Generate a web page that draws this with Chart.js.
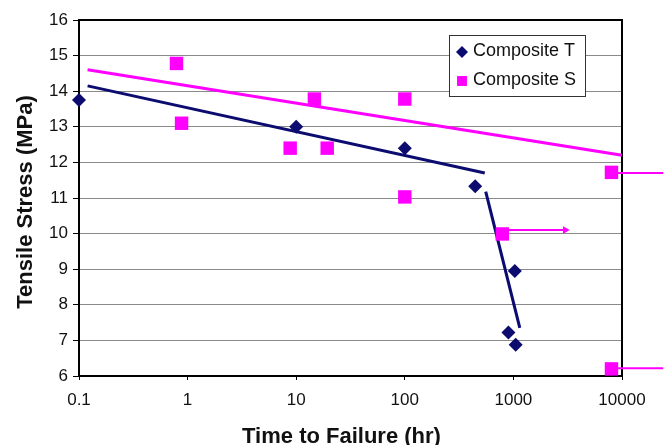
<!DOCTYPE html>
<html lang="en">
<head>
<meta charset="UTF-8">
<title>Tensile Stress vs Time to Failure</title>
<style>
  html, body { margin: 0; padding: 0; background: #fff; }
  #chart { display: block; }
</style>
</head>
<body>
<canvas id="chart" width="666" height="445"></canvas>
<script src="https://cdn.jsdelivr.net/npm/chart.js"></script>
<script>
  // Composite T (diamonds)
  const tTime = [0.1, 10, 100, 445, 1030, 900, 1050];
  const tStress = [13.75, 13.0, 12.4, 11.33, 8.95, 7.22, 6.88];
  // Composite S (squares)
  const sTime = [0.79, 0.88, 8.8, 14.7, 19.3, 100, 100, 790, 8000, 8000];
  const sStress = [14.78, 13.1, 12.4, 13.78, 12.4, 13.78, 11.03, 9.99, 11.72, 6.2];
  // trend lines
  const tFit1Time = [0.12, 545];
  const tFit1Stress = [14.15, 11.7];
  const tFit2Time = [556, 1145];
  const tFit2Stress = [11.18, 7.35];
  const sFitTime = [0.12, 10000];
  const sFitStress = [14.6, 12.2];
  // run-outs (arrows, specimens not failed yet)
  const runFrom = [790, 8000, 8000];
  const runTo = [3000, 24000, 24000];
  const runStress = [10.1, 11.7, 6.22];
  // axes
  const xTicks = [0.1, 1, 10, 100, 1000, 10000];
  const yMin = 6, yMax = 16;

  const navy = '#0b0b70';
  const pink = '#ff00ff';
  const fam = '"Liberation Sans", Arial, sans-serif';

  Chart.defaults.font.family = fam;
  Chart.defaults.font.size = 17;
  Chart.defaults.color = '#111';

  const pts = (xs, ys) => xs.map((x, i) => ({x: x, y: ys[i]}));

  const datasets = [
    {label: 'Composite T', data: pts(tTime, tStress), pointStyle: 'rectRot', pointRadius: 7,
     backgroundColor: navy, borderColor: navy, borderWidth: 0, showLine: false},
    {label: 'Composite S', data: pts(sTime, sStress), pointStyle: 'rect', pointRadius: 9.5,
     backgroundColor: pink, borderColor: pink, borderWidth: 0, showLine: false},
    {label: 'fitS', data: pts(sFitTime, sFitStress), showLine: true, pointRadius: 0, borderColor: pink, borderWidth: 3},
    {label: 'fitT1', data: pts(tFit1Time, tFit1Stress), showLine: true, pointRadius: 0, borderColor: navy, borderWidth: 3},
    {label: 'fitT2', data: pts(tFit2Time, tFit2Stress), showLine: true, pointRadius: 0, borderColor: navy, borderWidth: 3}
  ];
  runFrom.forEach((f, i) => {
    datasets.push({
      label: 'run' + i,
      data: [{x: f, y: runStress[i]}, {x: runTo[i], y: runStress[i]}],
      showLine: true, borderColor: pink, borderWidth: 2,
      pointRadius: [0, 4.5], pointStyle: 'triangle', pointRotation: 90,
      backgroundColor: pink, pointBorderWidth: 0
    });
  });
  datasets.forEach(d => { d.clip = false; });

  // top / right frame of plot
  const frame = {
    id: 'frame',
    beforeDatasetsDraw(chart) {
      const {ctx, chartArea: a} = chart;
      ctx.save();
      ctx.strokeStyle = '#000';
      ctx.lineWidth = 2;
      ctx.beginPath();
      ctx.moveTo(a.left, a.top);
      ctx.lineTo(a.right, a.top);
      ctx.lineTo(a.right, a.bottom);
      ctx.stroke();
      ctx.restore();
    }
  };

  // boxed legend inside the plot + axis titles
  const extras = {
    id: 'extras',
    afterDraw(chart) {
      const {ctx, chartArea: a} = chart;
      ctx.save();
      const bx = a.right - 173, by = a.top + 15, bw = 136, bh = 61;
      ctx.fillStyle = '#fff';
      ctx.fillRect(bx, by, bw, bh);
      ctx.strokeStyle = '#333';
      ctx.lineWidth = 1;
      ctx.strokeRect(bx + 0.5, by + 0.5, bw, bh);
      const items = [[datasets[0], 17], [datasets[1], 46]];
      ctx.font = '18px ' + fam;
      ctx.textBaseline = 'middle';
      ctx.textAlign = 'left';
      items.forEach(([d, dy]) => {
        ctx.fillStyle = d.backgroundColor;
        Chart.helpers.drawPoint(ctx, {pointStyle: d.pointStyle, radius: d.pointStyle === 'rect' ? 7 : 6, rotation: 0, borderWidth: 0}, bx + 13, by + dy);
        ctx.fillStyle = '#111';
        ctx.fillText(d.label, bx + 24, by + dy - 1);
      });

      ctx.font = 'bold 22px ' + fam;
      ctx.fillStyle = '#111';
      ctx.textAlign = 'center';
      ctx.textBaseline = 'alphabetic';
      ctx.fillText('Time to Failure (hr)', (a.left + a.right) / 2 - 9, 443);
      ctx.translate(32, (a.top + a.bottom) / 2 + 4);
      ctx.rotate(-Math.PI / 2);
      ctx.fillText('Tensile Stress (MPa)', 0, 0);
      ctx.restore();
    }
  };

  new Chart(document.getElementById('chart'), {
    type: 'scatter',
    data: {datasets: datasets},
    options: {
      responsive: false,
      animation: false,
      layout: {padding: {top: 20, right: 44, left: 0, bottom: 0}},
      plugins: {legend: {display: false}, tooltip: {enabled: false}},
      scales: {
        x: {
          type: 'logarithmic', min: xTicks[0], max: xTicks[xTicks.length - 1],
          afterBuildTicks: s => { s.ticks = xTicks.map(v => ({value: v})); },
          afterFit: s => { s.height = 69; },
          ticks: {padding: 10, callback: v => String(v), autoSkip: false, maxRotation: 0},
          grid: {drawOnChartArea: false, tickLength: 4, tickColor: '#000'},
          border: {color: '#000', width: 2}
        },
        y: {
          min: yMin, max: yMax,
          afterFit: s => { s.width = 79; },
          ticks: {stepSize: 1, padding: 5},
          grid: {color: '#8a8a8a', lineWidth: 1, tickLength: 6, tickColor: '#000'},
          border: {color: '#000', width: 2}
        }
      }
    },
    plugins: [frame, extras]
  });
</script>
</body>
</html>
